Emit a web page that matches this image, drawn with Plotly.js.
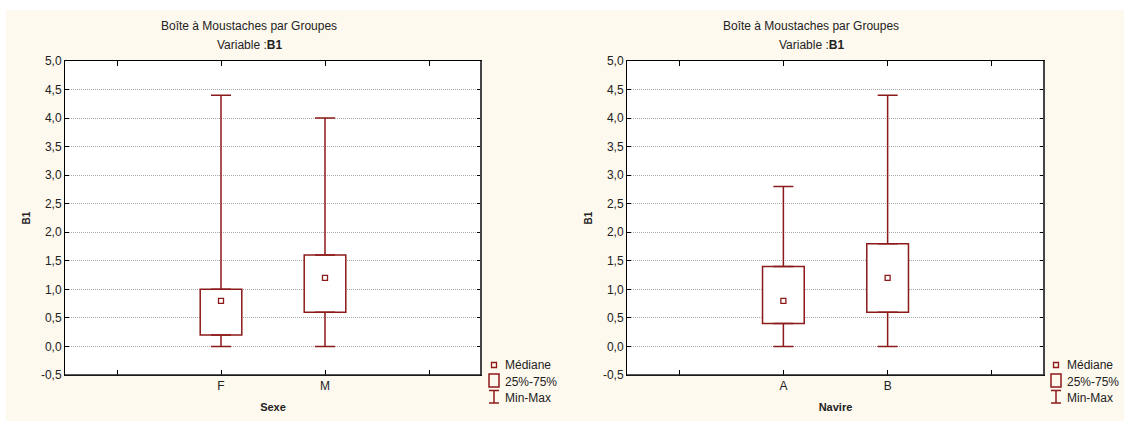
<!DOCTYPE html>
<html>
<head>
<meta charset="utf-8">
<script src="https://cdn.plot.ly/plotly-3.0.1.min.js"></script>
<style>html,body{margin:0;padding:0;background:#fff;}#chart{width:1124px;height:421px;}</style>
</head>
<body>
<div id="chart"></div>
<script>
// ---- Data ----
const sexeCategories = ['F', 'M'];
const sexeMin    = [0.0, 0.0];
const sexeQ1     = [0.2, 0.6];
const sexeMedian = [0.8, 1.2];
const sexeQ3     = [1.0, 1.6];
const sexeMax    = [4.4, 4.0];

const navireCategories = ['A', 'B'];
const navireMin    = [0.0, 0.0];
const navireQ1     = [0.4, 0.6];
const navireMedian = [0.8, 1.2];
const navireQ3     = [1.4, 1.8];
const navireMax    = [2.8, 4.4];

const yTickValues = [-0.5, 0.0, 0.5, 1.0, 1.5, 2.0, 2.5, 3.0, 3.5, 4.0, 4.5, 5.0];
const yTickLabels = ['-0,5', '0,0', '0,5', '1,0', '1,5', '2,0', '2,5', '3,0', '3,5', '4,0', '4,5', '5,0'];

const legendLabels = ['Médiane', '25%-75%', 'Min-Max'];
const chartTitle = 'Boîte à Moustaches par Groupes';
const subTitle = 'Variable :<b>B1</b>';
const yTitle = 'B1';

// ---- Styling ----
const RED = '#8c1a1a';
const W = 1124, H = 421;
const px = x => x / W;
const py = y => 1 - y / H;
const FONT = 'Liberation Sans, Arial, sans-serif';

function groupTraces(cats, mn, q1, med, q3, mx, xa, ya) {
  const xs = cats.map((c, i) => i + 1);
  return [
    { type: 'bar', x: xs, base: q1, y: q3.map((v, i) => v - q1[i]), width: 0.4,
      marker: { color: '#ffffff', line: { color: RED, width: 1.5 } },
      xaxis: xa, yaxis: ya, hoverinfo: 'skip' },
    { type: 'scatter', mode: 'markers', x: xs, y: q3,
      marker: { size: 1, color: 'rgba(0,0,0,0)' },
      error_y: { type: 'data', symmetric: false, array: mx.map((v, i) => v - q3[i]),
                 arrayminus: q3.map(() => 0), color: RED, thickness: 1.5, width: 10 },
      xaxis: xa, yaxis: ya, hoverinfo: 'skip' },
    { type: 'scatter', mode: 'markers', x: xs, y: q1,
      marker: { size: 1, color: 'rgba(0,0,0,0)' },
      error_y: { type: 'data', symmetric: false, array: q1.map(() => 0),
                 arrayminus: q1.map((v, i) => v - mn[i]), color: RED, thickness: 1.5, width: 10 },
      xaxis: xa, yaxis: ya, hoverinfo: 'skip' },
    { type: 'scatter', mode: 'markers', x: xs, y: med,
      marker: { symbol: 'square', size: 5, color: '#ffffff', line: { color: RED, width: 1.3 } },
      xaxis: xa, yaxis: ya, hoverinfo: 'skip' }
  ];
}

const data = [
  ...groupTraces(sexeCategories, sexeMin, sexeQ1, sexeMedian, sexeQ3, sexeMax, 'x', 'y'),
  ...groupTraces(navireCategories, navireMin, navireQ1, navireMedian, navireQ3, navireMax, 'x2', 'y2')
];

function xAxis(domain, cats, title, anchor) {
  return {
    domain: domain, anchor: anchor, range: [-0.5, cats.length + 1.5],
    tickvals: [0, 1, 2, 3], ticktext: ['', ...cats, ''],
    ticks: 'inside', ticklen: 5, tickcolor: '#000', tickwidth: 1,
    showline: true, linecolor: '#000', linewidth: 1, mirror: 'ticks',
    showgrid: false, zeroline: false,
    tickfont: { size: 12, color: '#222' },
    title: { text: '<b>' + title + '</b>', font: { size: 11, color: '#222' }, standoff: 10 }
  };
}
function yAxis(anchor) {
  return {
    domain: [46 / H, 360 / H], anchor: anchor, range: [-0.5, 5.0],
    tickmode: 'array', tickvals: yTickValues, ticktext: yTickLabels,
    ticks: 'inside', ticklen: 4, tickcolor: '#000',
    showline: true, linecolor: '#000', linewidth: 1, mirror: 'ticks',
    showgrid: true, gridcolor: '#a8a8a8', griddash: '1px,1px', gridwidth: 1,
    zeroline: false,
    tickfont: { size: 12, color: '#222' },
    title: { text: '<b>' + yTitle + '</b>', font: { size: 10, color: '#222' }, standoff: 8 }
  };
}

const annotations = [];
const shapes = [];
// white strips outside the cream panel
shapes.push({ type: 'rect', xref: 'paper', yref: 'paper', x0: 0, x1: 1, y0: py(10), y1: 1,
              fillcolor: '#ffffff', line: { width: 0 }, layer: 'below' });
shapes.push({ type: 'rect', xref: 'paper', yref: 'paper', x0: 0, x1: px(6), y0: 0, y1: 1,
              fillcolor: '#ffffff', line: { width: 0 }, layer: 'below' });

[0, 562].forEach((dx, k) => {
  const cx = 249 + dx;
  annotations.push({ xref: 'paper', yref: 'paper', x: px(cx), y: py(26), text: chartTitle,
    showarrow: false, xanchor: 'center', yanchor: 'middle', font: { size: 12, color: '#222' } });
  annotations.push({ xref: 'paper', yref: 'paper', x: px(cx), y: py(45), text: subTitle,
    showarrow: false, xanchor: 'center', yanchor: 'middle', font: { size: 12, color: '#222' } });
  // frame shadow (right and bottom)
  const xd = k === 0 ? 'x domain' : 'x2 domain';
  const yd = k === 0 ? 'y domain' : 'y2 domain';
  shapes.push({ type: 'line', xref: xd, yref: yd, x0: 1, x1: 1, y0: 0, y1: 1, line: { color: '#444', width: 2 } });
  shapes.push({ type: 'line', xref: xd, yref: yd, x0: 0, x1: 1, y0: 0, y1: 0, line: { color: '#222', width: 1.5 } });
  // legend
  const lx = 494 + dx;
  shapes.push({ type: 'rect', xref: 'paper', yref: 'paper', x0: px(lx - 2.5), x1: px(lx + 2.5), y0: py(367.5), y1: py(362.5),
                line: { color: RED, width: 1.3 }, fillcolor: 'rgba(0,0,0,0)' });
  shapes.push({ type: 'rect', xref: 'paper', yref: 'paper', x0: px(lx - 5), x1: px(lx + 5), y0: py(387), y1: py(374),
                line: { color: RED, width: 1.5 }, fillcolor: 'rgba(0,0,0,0)' });
  shapes.push({ type: 'line', xref: 'paper', yref: 'paper', x0: px(lx), x1: px(lx), y0: py(390.5), y1: py(403),
                line: { color: RED, width: 1.5 } });
  shapes.push({ type: 'line', xref: 'paper', yref: 'paper', x0: px(lx - 5), x1: px(lx + 5), y0: py(390.5), y1: py(390.5),
                line: { color: RED, width: 1.5 } });
  shapes.push({ type: 'line', xref: 'paper', yref: 'paper', x0: px(lx - 5), x1: px(lx + 5), y0: py(403), y1: py(403),
                line: { color: RED, width: 1.5 } });
  [365, 382, 398].forEach((yy, i) => {
    annotations.push({ xref: 'paper', yref: 'paper', x: px(lx + 9), y: py(yy), text: legendLabels[i],
      showarrow: false, xanchor: 'left', yanchor: 'middle', font: { size: 12, color: '#222' } });
  });
});

const layout = {
  width: W, height: H,
  margin: { l: 0, r: 0, t: 0, b: 0 },
  paper_bgcolor: '#fef9ee', plot_bgcolor: '#ffffff',
  showlegend: false, separators: ',.',
  font: { family: FONT, size: 12, color: '#222' },
  xaxis: xAxis([65 / W, 481 / W], sexeCategories, 'Sexe', 'y'),
  yaxis: yAxis('x'),
  xaxis2: xAxis([627 / W, 1044 / W], navireCategories, 'Navire', 'y2'),
  yaxis2: yAxis('x2'),
  annotations: annotations,
  shapes: shapes
};

Plotly.newPlot('chart', data, layout, { staticPlot: true, displayModeBar: false });
</script>
</body>
</html>
